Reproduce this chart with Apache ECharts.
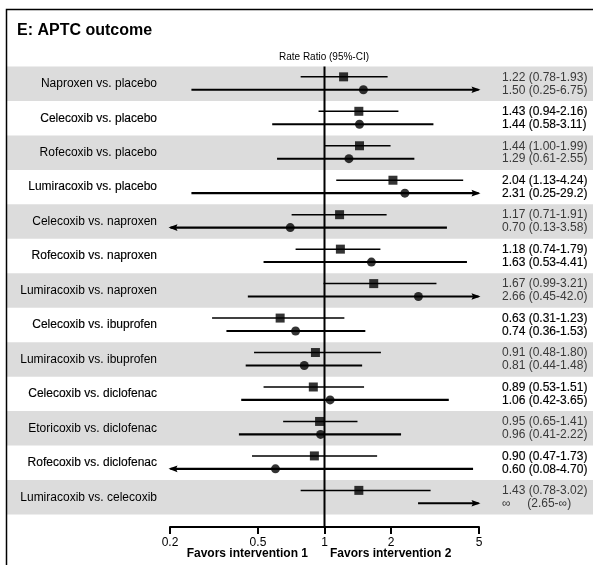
<!DOCTYPE html>
<html>
<head>
<meta charset="utf-8">
<script src="https://cdn.jsdelivr.net/npm/echarts@6/dist/echarts.min.js"></script>
<style>
html,body{margin:0;padding:0;background:#fff;}
#chart{width:593px;height:565px;}
</style>
</head>
<body>
<div id="chart"></div>
<script>
const comparisons = [
  'Naproxen vs. placebo','Celecoxib vs. placebo','Rofecoxib vs. placebo','Lumiracoxib vs. placebo',
  'Celecoxib vs. naproxen','Rofecoxib vs. naproxen','Lumiracoxib vs. naproxen','Celecoxib vs. ibuprofen',
  'Lumiracoxib vs. ibuprofen','Celecoxib vs. diclofenac','Etoricoxib vs. diclofenac','Rofecoxib vs. diclofenac',
  'Lumiracoxib vs. celecoxib'
];
// first estimate (square)
const sqEst = [1.22,1.43,1.44,2.04,1.17,1.18,1.67,0.63,0.91,0.89,0.95,0.90,1.43];
const sqLo  = [0.78,0.94,1.00,1.13,0.71,0.74,0.99,0.31,0.48,0.53,0.65,0.47,0.78];
const sqHi  = [1.93,2.16,1.99,4.24,1.91,1.79,3.21,1.23,1.80,1.51,1.41,1.73,3.02];
// second estimate (circle)
const ciEst = [1.50,1.44,1.29,2.31,0.70,1.63,2.66,0.74,0.81,1.06,0.96,0.60,Infinity];
const ciLo  = [0.25,0.58,0.61,0.25,0.13,0.53,0.45,0.36,0.44,0.42,0.41,0.08,2.65];
const ciHi  = [6.75,3.11,2.55,29.2,3.58,4.41,42.0,1.53,1.48,3.65,2.22,4.70,Infinity];
const tickValues = [0.2,0.5,1,2,5];

const FONT = '"Liberation Sans", Arial, Helvetica, sans-serif';
const xMin = Math.log10(tickValues[0]);
const xMax = Math.log10(tickValues[tickValues.length-1]);
const OFF_SQ = -0.2, OFF_CI = 0.175;

function fmt(v){ return v === Infinity ? '\u221e' : (v >= 10 ? v.toFixed(1) : v.toFixed(2)); }
function ciText(e,l,h){
  if (e === Infinity) return '\u221e     (' + fmt(l) + '-' + fmt(h) + ')';
  return fmt(e) + ' (' + fmt(l) + '-' + fmt(h) + ')';
}

const bandData = [];
comparisons.forEach((c,i)=>{ if (i % 2 === 0) bandData.push([0, i+1]); });

const lineData = [];
function addLine(lo, hi, y, w){
  lineData.push([
    Math.log10(Math.max(lo, tickValues[0])),
    Math.log10(Math.min(hi, tickValues[tickValues.length-1])),
    y, lo < tickValues[0] ? 1 : 0, hi > tickValues[tickValues.length-1] ? 1 : 0, w
  ]);
}
comparisons.forEach((c,i)=>{
  addLine(sqLo[i], sqHi[i], i+1+OFF_SQ, 1.5);
  addLine(ciLo[i], ciHi[i], i+1+OFF_CI, 2.1);
});
const sqPts = sqEst.map((v,i)=>[Math.log10(v), i+1+OFF_SQ]);
const ciPts = [];
ciEst.forEach((v,i)=>{ if (isFinite(v)) ciPts.push([Math.log10(v), i+1+OFF_CI]); });

const textData = [];
comparisons.forEach((c,i)=>{
  textData.push([xMax, i+1+OFF_SQ, i, 0]);
  textData.push([xMax, i+1+OFF_CI, i, 1]);
});

const chart = echarts.init(document.getElementById('chart'), null, {renderer:'canvas'});
const option = {
  animation: false,
  backgroundColor: '#fff',
  title: {
    text: 'E: APTC outcome', left: 17, top: 23, padding: 0,
    textStyle: {fontFamily: FONT, fontSize: 16, fontWeight: 'bold', color: '#000'}
  },
  grid: {left: 170, right: 114, top: 66.5, bottom: 50.5},
  xAxis: {
    type: 'value', min: xMin, max: xMax,
    position: 'bottom', offset: 12.5,
    axisLine: {show: true, onZero: false, lineStyle: {color: '#000', width: 2}},
    axisTick: {show: true, inside: false, length: 7, lineStyle: {color: '#000', width: 2},
      customValues: tickValues.map(v=>Math.log10(v))},
    axisLabel: {
      customValues: tickValues.map(v=>Math.log10(v)),
      formatter: function(v){ return String(+Math.pow(10, v).toPrecision(2)); },
      margin: 9.5, color: '#000', fontSize: 12, fontFamily: FONT
    },
    splitLine: {show: false}
  },
  yAxis: {
    type: 'value', min: 0.5, max: comparisons.length + 0.5, inverse: true, z: 10,
    axisLine: {show: false}, axisTick: {show: false}, splitLine: {show: false},
    axisLabel: {
      customValues: comparisons.map((c,i)=>i+1),
      formatter: function(v){
        const i = Math.round(v) - 1;
        return (i % 2 === 1 ? '{w|' : '{g|') + comparisons[i] + '}';
      },
      margin: 13, align: 'right', color: '#000', fontFamily: FONT, fontSize: 12,
      rich: {
        w: {fontFamily: FONT, fontSize: 12, color: '#000', textBorderColor: '#000', textBorderWidth: 0.15},
        g: {fontFamily: FONT, fontSize: 12, color: '#000'}
      }
    }
  },
  graphic: [
    {type: 'text', style: {text: 'Rate Ratio (95%-CI)', x: 324, y: 57, align: 'center', verticalAlign: 'middle', font: '10px ' + FONT, fill: '#000'}, silent: true},
    {type: 'text', style: {text: 'Favors intervention 1', x: 308, y: 554, align: 'right', verticalAlign: 'middle', font: 'bold 12px ' + FONT, fill: '#000'}, silent: true},
    {type: 'text', style: {text: 'Favors intervention 2', x: 330, y: 554, align: 'left', verticalAlign: 'middle', font: 'bold 12px ' + FONT, fill: '#000'}, silent: true},
    {type: 'polyline', shape: {points: [[6.5, 600], [6.5, 9.5], [600, 9.5]]}, style: {stroke: '#000', lineWidth: 1.5, fill: null}, silent: true, z: 100}
  ],
  series: [
    {
      type: 'custom', name: 'bands', clip: false, z: 1, silent: true,
      data: bandData,
      encode: {x: 0, y: 1},
      renderItem: function(params, api){
        const r = api.value(1);
        const top = api.coord([0, r - 0.5])[1];
        const bot = api.coord([0, r + 0.5])[1];
        return {type: 'rect', shape: {x: 7, y: top, width: api.getWidth(), height: bot - top}, style: {fill: '#dcdcdc'}};
      }
    },
    {
      type: 'custom', name: 'ref', clip: false, z: 2, silent: true,
      data: [[Math.log10(1)]],
      encode: {x: 0},
      renderItem: function(params, api){
        const x = api.coord([api.value(0), 0.5])[0];
        const top = api.coord([0, 0.5])[1];
        const bot = api.coord([0, comparisons.length + 0.5])[1] + 12.5;
        return {type: 'line', shape: {x1: x, y1: top, x2: x, y2: bot}, style: {stroke: '#000', lineWidth: 2}};
      }
    },
    {
      type: 'custom', name: 'ci', clip: false, z: 3, silent: true,
      data: lineData,
      encode: {x: [0, 1], y: 2},
      renderItem: function(params, api){
        const p1 = api.coord([api.value(0), api.value(2)]);
        const p2 = api.coord([api.value(1), api.value(2)]);
        const w = api.value(5);
        const children = [];
        let x1 = p1[0], x2 = p2[0];
        const y = p1[1];
        const L = 9, H = 3.3;
        if (api.value(3)) { x1 -= 1.5; children.push({type: 'polygon', shape: {points: [[x1, y], [x1 + L, y - H], [x1 + L - 1.5, y], [x1 + L, y + H]]}, style: {fill: '#000'}}); }
        if (api.value(4)) { x2 += 1.5; children.push({type: 'polygon', shape: {points: [[x2, y], [x2 - L, y - H], [x2 - L + 1.5, y], [x2 - L, y + H]]}, style: {fill: '#000'}}); }
        children.unshift({type: 'line', shape: {x1: api.value(3) ? x1 + 2 : x1, y1: y, x2: api.value(4) ? x2 - 2 : x2, y2: y}, style: {stroke: '#000', lineWidth: w}});
        return {type: 'group', children: children};
      }
    },
    {
      type: 'scatter', name: 'first', z: 4, silent: true,
      symbol: 'rect', symbolSize: 9, itemStyle: {color: '#000'},
      data: sqPts
    },
    {
      type: 'scatter', name: 'second', z: 4, silent: true,
      symbol: 'circle', symbolSize: 9, itemStyle: {color: '#000'},
      data: ciPts
    },
    {
      type: 'custom', name: 'texts', clip: false, z: 5, silent: true,
      data: textData,
      encode: {x: 0, y: 1},
      renderItem: function(params, api){
        const p = api.coord([api.value(0), api.value(1)]);
        const i = api.value(2), k = api.value(3);
        const txt = k === 0 ? ciText(sqEst[i], sqLo[i], sqHi[i]) : ciText(ciEst[i], ciLo[i], ciHi[i]);
        const white = i % 2 === 1;
        return {type: 'text', style: {
          text: txt, x: p[0] + 23, y: p[1] + 0.5, align: 'left', verticalAlign: 'middle',
          font: '12px ' + FONT, fill: white ? '#000' : '#3a3a3a',
          stroke: white ? '#000' : null, lineWidth: white ? 0.15 : 0
        }};
      }
    }
  ]
};
chart.setOption(option);
</script>
</body>
</html>
